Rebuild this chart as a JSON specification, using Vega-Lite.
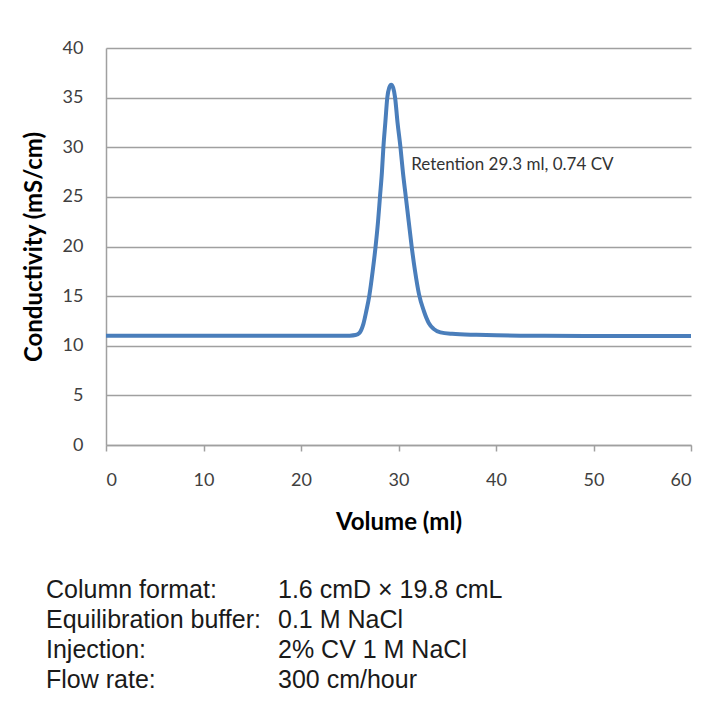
{
  "$schema": "https://vega.github.io/schema/vega-lite/v6.json",
  "padding": {"left": 22, "top": 39, "right": 5, "bottom": 5},
  "background": "white",
  "spacing": 41,
  "config": {
    "view": {"stroke": null},
    "font": "Lato"
  },
  "vconcat": [
    {
      "width": 585,
      "height": 397,
      "layer": [
        {
          "data": {"values": [
            {"vol": 0, "cond": 11.0},
            {"vol": 5, "cond": 11.0},
            {"vol": 10, "cond": 11.0},
            {"vol": 15, "cond": 11.0},
            {"vol": 20, "cond": 11.0},
            {"vol": 24, "cond": 11.0},
            {"vol": 25, "cond": 11.02},
            {"vol": 25.6, "cond": 11.08},
            {"vol": 26.0, "cond": 11.3},
            {"vol": 26.4, "cond": 12.2},
            {"vol": 26.7, "cond": 13.5},
            {"vol": 27.0, "cond": 15.0},
            {"vol": 27.35, "cond": 17.5},
            {"vol": 27.65, "cond": 20.0},
            {"vol": 27.9, "cond": 22.5},
            {"vol": 28.1, "cond": 25.0},
            {"vol": 28.3, "cond": 27.5},
            {"vol": 28.45, "cond": 30.0},
            {"vol": 28.65, "cond": 32.5},
            {"vol": 28.85, "cond": 35.0},
            {"vol": 29.05, "cond": 36.0},
            {"vol": 29.25, "cond": 36.3},
            {"vol": 29.45, "cond": 36.0},
            {"vol": 29.65, "cond": 35.0},
            {"vol": 29.9, "cond": 32.5},
            {"vol": 30.2, "cond": 30.0},
            {"vol": 30.45, "cond": 27.5},
            {"vol": 30.75, "cond": 25.0},
            {"vol": 31.05, "cond": 22.5},
            {"vol": 31.35, "cond": 20.0},
            {"vol": 31.7, "cond": 17.5},
            {"vol": 32.1, "cond": 15.2},
            {"vol": 32.6, "cond": 13.5},
            {"vol": 33.1, "cond": 12.3},
            {"vol": 33.6, "cond": 11.7},
            {"vol": 34.3, "cond": 11.35},
            {"vol": 35.5, "cond": 11.2},
            {"vol": 38, "cond": 11.1},
            {"vol": 40, "cond": 11.05},
            {"vol": 45, "cond": 11.0},
            {"vol": 50, "cond": 10.98},
            {"vol": 55, "cond": 10.97},
            {"vol": 60, "cond": 10.97}
          ]},
          "mark": {"type": "line", "color": "#4a7ebb", "strokeWidth": 4, "interpolate": "monotone"},
          "encoding": {
            "x": {
              "field": "vol", "type": "quantitative",
              "scale": {"domain": [0, 60], "nice": false},
              "axis": {
                "values": [0, 10, 20, 30, 40, 50, 60],
                "title": "Volume (ml)",
                "grid": false,
                "domainColor": "#a0a0a0", "domainWidth": 1.5,
                "tickColor": "#a0a0a0", "tickWidth": 1.5, "tickSize": 6,
                "labelFont": "Lato", "labelFontSize": 18, "labelColor": "#404040",
                "labelPadding": 20,
                "titleFont": "Lato", "titleFontSize": 24, "titleFontWeight": "bold", "titleColor": "#000000",
                "titlePadding": 21
              }
            },
            "y": {
              "field": "cond", "type": "quantitative",
              "scale": {"domain": [0, 40], "nice": false},
              "axis": {
                "values": [0, 5, 10, 15, 20, 25, 30, 35, 40],
                "title": "Conductivity (mS/cm)",
                "grid": true, "gridColor": "#a0a0a0", "gridWidth": 1.5,
                "ticks": false,
                "domainColor": "#a0a0a0", "domainWidth": 1.5,
                "labelFont": "Lato", "labelFontSize": 18, "labelColor": "#404040",
                "labelPadding": 23,
                "titleFont": "Lato", "titleFontSize": 24, "titleFontWeight": "bold", "titleColor": "#000000",
                "titlePadding": 16
              }
            }
          }
        },
        {
          "data": {"values": [{"label": "Retention 29.3 ml, 0.74 CV", "vol": 31.3, "cond": 28.2}]},
          "mark": {"type": "text", "align": "left", "baseline": "middle", "font": "Lato", "fontSize": 17, "color": "#333333"},
          "encoding": {
            "x": {"field": "vol", "type": "quantitative"},
            "y": {"field": "cond", "type": "quantitative"},
            "text": {"field": "label"}
          }
        }
      ]
    },
    {
      "width": 172,
      "height": 120,
      "data": {"values": [
        {"row": 1, "label": "Column format:", "value": "1.6 cmD × 19.8 cmL"},
        {"row": 2, "label": "Equilibration buffer:", "value": "0.1 M NaCl"},
        {"row": 3, "label": "Injection:", "value": "\u20092% CV 1 M NaCl"},
        {"row": 4, "label": "Flow rate:", "value": "300 cm/hour"}
      ]},
      "layer": [
        {
          "mark": {"type": "text", "align": "left", "baseline": "middle", "font": "Liberation Sans", "fontSize": 25, "color": "#1a1a1a"},
          "encoding": {
            "x": {"datum": 0, "type": "quantitative", "scale": {"domain": [0.2586, 1], "nice": false, "zero": false}, "axis": null},
            "y": {"field": "row", "type": "ordinal", "scale": {"paddingInner": 0, "paddingOuter": 0}, "axis": null},
            "text": {"field": "label"}
          }
        },
        {
          "mark": {"type": "text", "align": "left", "baseline": "middle", "font": "Liberation Sans", "fontSize": 25, "color": "#1a1a1a"},
          "encoding": {
            "x": {"datum": 1, "type": "quantitative"},
            "y": {"field": "row", "type": "ordinal"},
            "text": {"field": "value"}
          }
        }
      ]
    }
  ]
}
